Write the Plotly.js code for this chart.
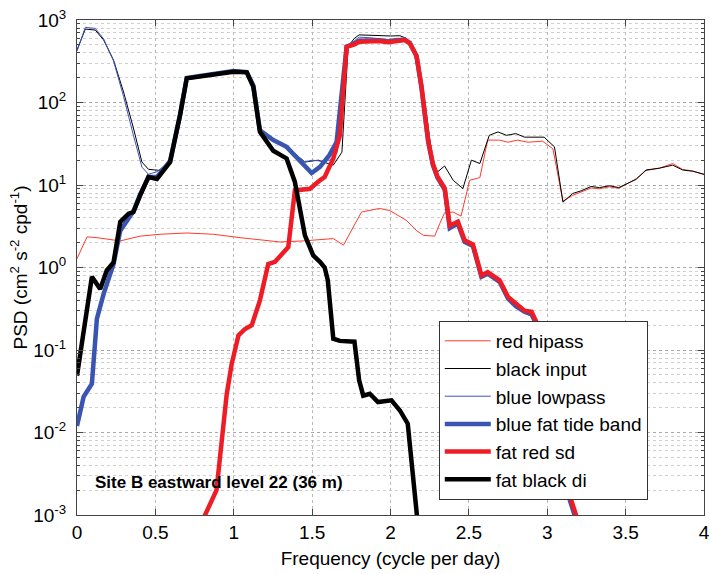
<!DOCTYPE html>
<html>
<head>
<meta charset="utf-8">
<script src="https://cdn.plot.ly/plotly-3.0.1.min.js"></script>
<style>html,body{margin:0;padding:0;background:#fff;}#chart{width:710px;height:574px;}</style>
</head>
<body>
<div id="chart"></div>
<script>
// ---- data ----
const hipassX = [0,0.064,0.127,0.276,0.403,0.53,0.70,0.87,1.04,1.295,1.443,1.55,1.635,1.70,1.815,1.93,1.995,2.10,2.166,2.21,2.282,2.314,2.345,2.40,2.45,2.505,2.57,2.62,2.696,2.75,2.81,2.877,2.97,3.036,3.10,3.163,3.216,3.28,3.333,3.397,3.456,3.567,3.63,3.716,3.80,3.864,3.927,3.99,4.0];
const hipassY = [1.28,2.35,2.3,2.1,2.4,2.53,2.62,2.53,2.3,2.04,2.1,2.17,2.24,1.87,4.7,5.2,4.9,3.74,2.8,2.45,2.4,3.4,4.6,4.7,4.2,11.4,12.3,35,35,33,35,33,34,27.5,6.4,7.5,8.2,9.2,9.0,9.5,9.1,11.9,15.0,16.0,18.2,15.4,14.8,13.6,13.4];

const inputX = [0,0.053,0.117,0.17,0.233,0.297,0.36,0.414,0.456,0.53,0.594,0.658,0.70,0.85,0.998,1.083,1.125,1.167,1.252,1.337,1.41,1.454,1.54,1.57,1.635,1.69,1.73,1.77,1.80,1.87,1.93,2.0,2.06,2.10,2.144,2.218,2.27,2.30,2.345,2.40,2.462,2.516,2.57,2.63,2.686,2.74,2.80,2.855,2.98,3.046,3.10,3.163,3.216,3.28,3.333,3.397,3.456,3.567,3.63,3.716,3.80,3.864,3.927,3.99,4.0];
const inputY = [433,776,755,572,326,134,49,19,15.5,15,19.5,72,198,218,240,234,160,46,35,29,22,19,20,19,17.4,25,480,600,660,650,650,640,645,600,453,103,19,14.4,17,11.4,9.06,20,18.2,40,44,40,42,38,38,29,6.2,7.9,8.5,9.6,9.3,9.8,9.3,11.7,15.2,16,17.4,15.2,14.7,13.7,13.5];

const lowpassX = [0,0.053,0.117,0.17,0.233,0.297,0.36,0.414,0.456,0.51,0.594,0.658,0.70,0.85,0.998,1.083,1.125,1.167,1.252,1.337,1.41,1.454,1.50,1.55,1.61,1.656,1.677,1.72,1.77,1.80,1.868,1.93,1.985,2.04,2.09,2.123,2.166,2.197,2.24,2.27,2.30,2.346,2.378,2.43,2.473,2.526,2.58,2.62,2.696,2.75,2.80,2.855,2.90,2.94,3.0,3.06,3.14,3.2];
const lowpassY = [420,815,790,590,320,118,40,16.5,13.5,14.5,19.5,72,198,218,240,234,160,46,35,29,22,19,20,19.5,20,24,38,480,560,620,610,600,580,600,600,540,370,165,33,17,12,8.6,2.9,3.3,2.0,1.8,0.75,0.82,0.66,0.41,0.33,0.28,0.26,0.18,0.045,0.011,0.0016,0.0007];

const tideX = [0,0.042,0.095,0.127,0.17,0.233,0.276,0.297,0.33,0.36,0.40,0.456,0.51,0.594,0.658,0.70,0.85,0.998,1.083,1.125,1.167,1.252,1.337,1.41,1.497,1.55,1.61,1.656,1.72,1.77,1.80,1.868,1.93,1.985,2.04,2.09,2.123,2.166,2.197,2.24,2.27,2.30,2.346,2.378,2.43,2.473,2.526,2.58,2.62,2.696,2.75,2.80,2.855,2.90,2.94,3.0,3.06,3.14,3.2];
const tideY = [0.012,0.027,0.039,0.24,0.48,1.1,2.8,3.2,4.0,4.8,7.5,12.5,12.5,19.5,72,198,218,240,234,160,46,35,29,21,14,16.6,23,33,474,520,560,565,565,545,565,580,530,365,155,34,17.5,12.2,8.8,3.0,3.4,2.05,1.82,0.77,0.84,0.67,0.42,0.34,0.29,0.27,0.19,0.045,0.011,0.0016,0.0007];

const sdX = [0.80,0.817,0.89,0.923,0.955,0.987,1.03,1.072,1.115,1.167,1.22,1.263,1.348,1.39,1.486,1.55,1.58,1.635,1.677,1.72,1.77,1.80,1.868,1.93,1.985,2.04,2.09,2.123,2.166,2.197,2.24,2.27,2.30,2.346,2.378,2.43,2.473,2.526,2.58,2.62,2.696,2.75,2.80,2.855,2.90,2.94,3.0,3.06,3.14,3.2];
const sdY = [0.0008,0.001,0.002,0.008,0.029,0.068,0.15,0.18,0.20,0.40,1.1,1.17,1.77,8.6,9.0,11.4,12.5,21,40,474,507,546,556,556,536,556,571,521,370,160,35,18.2,12.6,9.1,3.2,3.6,2.14,1.9,0.80,0.88,0.70,0.44,0.36,0.30,0.29,0.20,0.05,0.012,0.0018,0.0008];

const diX = [0,0.053,0.095,0.148,0.19,0.233,0.276,0.329,0.36,0.403,0.456,0.51,0.594,0.658,0.70,0.85,0.998,1.083,1.125,1.167,1.252,1.337,1.39,1.454,1.507,1.55,1.58,1.60,1.635,1.677,1.77,1.80,1.826,1.868,1.92,2.006,2.06,2.11,2.144,2.166,2.18];
const diY = [0.049,0.22,0.77,0.55,0.92,1.15,3.57,4.5,4.7,7.5,12.5,11.8,19,71,196,215,236,232,155,44,26,21,10.9,2.45,1.4,1.17,1.0,0.7,0.137,0.129,0.126,0.043,0.028,0.0295,0.0234,0.0245,0.0185,0.0128,0.0032,0.001,0.0006];

const yTickVals = [1e-3,1e-2,1e-1,1e0,1e1,1e2,1e3];
const yTickText = ['10<sup>-3</sup>','10<sup>-2</sup>','10<sup>-1</sup>','10<sup>0</sup>','10<sup>1</sup>','10<sup>2</sup>','10<sup>3</sup>'];
const noteText = 'Site B eastward level 22 (36 m)';

// minor log ticks (2..9 per decade), built from the major tick values
const yMinorVals = [];
yTickVals.slice(0, -1).forEach(d => { for (let k = 2; k <= 9; k++) yMinorVals.push(d * k); });

const FONT = '"Liberation Sans", Arial, Helvetica, sans-serif';

const traces = [
  {x: hipassX, y: hipassY, name: 'red hipass', line: {color: '#ff3b2a', width: 1}},
  {x: inputX, y: inputY, name: 'black input', line: {color: '#000000', width: 1}},
  {x: lowpassX, y: lowpassY, name: 'blue lowpass', line: {color: '#3a57c4', width: 1}},
  {x: tideX, y: tideY, name: 'blue fat tide band', line: {color: '#3a55b0', width: 4.5}},
  {x: sdX, y: sdY, name: 'fat red sd', line: {color: '#ee1c24', width: 4.5}},
  {x: diX, y: diY, name: 'fat black di', line: {color: '#000000', width: 4.5}}
].map(t => Object.assign({type: 'scatter', mode: 'lines', hoverinfo: 'skip'}, t));

const layout = {
  width: 710, height: 574,
  margin: {l: 77, r: 6, t: 20, b: 59},
  paper_bgcolor: '#ffffff', plot_bgcolor: '#ffffff',
  font: {family: FONT, size: 19, color: '#000'},
  showlegend: true,
  legend: {
    x: 0.577, y: 0.392, xanchor: 'left', yanchor: 'top',
    bgcolor: '#ffffff', bordercolor: '#333333', borderwidth: 1,
    itemwidth: 46,
    font: {family: FONT, size: 19, color: '#000'}
  },
  xaxis: {
    range: [0, 4], tick0: 0, dtick: 0.5, zeroline: false,
    showline: true, linecolor: '#444', linewidth: 1, mirror: 'ticks',
    ticks: 'inside', ticklen: 6, tickcolor: '#444',
    showgrid: true, gridcolor: '#b8b8b8', griddash: 'dot', gridwidth: 1,
    tickfont: {family: FONT, size: 19},
    title: {text: 'Frequency (cycle per day)', font: {family: FONT, size: 19}, standoff: 9}
  },
  yaxis: {
    type: 'log', range: [-3, 3], tickmode: 'array', tickvals: yTickVals, ticktext: yTickText,
    showline: true, linecolor: '#444', linewidth: 1, mirror: 'ticks',
    ticks: 'inside', ticklen: 6, tickcolor: '#444',
    showgrid: true, gridcolor: '#a8a8a8', griddash: 'dot', gridwidth: 1,
    tickfont: {family: FONT, size: 19},
    ticklabelstandoff: 6,
    minor: {tickmode: 'array', tickvals: yMinorVals, ticks: 'inside', ticklen: 3, tickcolor: '#444',
            showgrid: true, gridcolor: '#cfcfcf', griddash: 'dot', gridwidth: 1},
    title: {text: 'PSD (cm<sup>2</sup> s<sup>-2</sup> cpd<sup>-1</sup>)', font: {family: FONT, size: 19}, standoff: 0}
  },
  annotations: [{
    text: '<b>' + noteText + '</b>', xref: 'x', yref: 'y', x: 0.102, y: -2.603,
    xanchor: 'left', yanchor: 'middle', showarrow: false,
    font: {family: FONT, size: 17, color: '#000'}
  }]
};

Plotly.newPlot('chart', traces, layout, {displayModeBar: false, staticPlot: true});
</script>
</body>
</html>
